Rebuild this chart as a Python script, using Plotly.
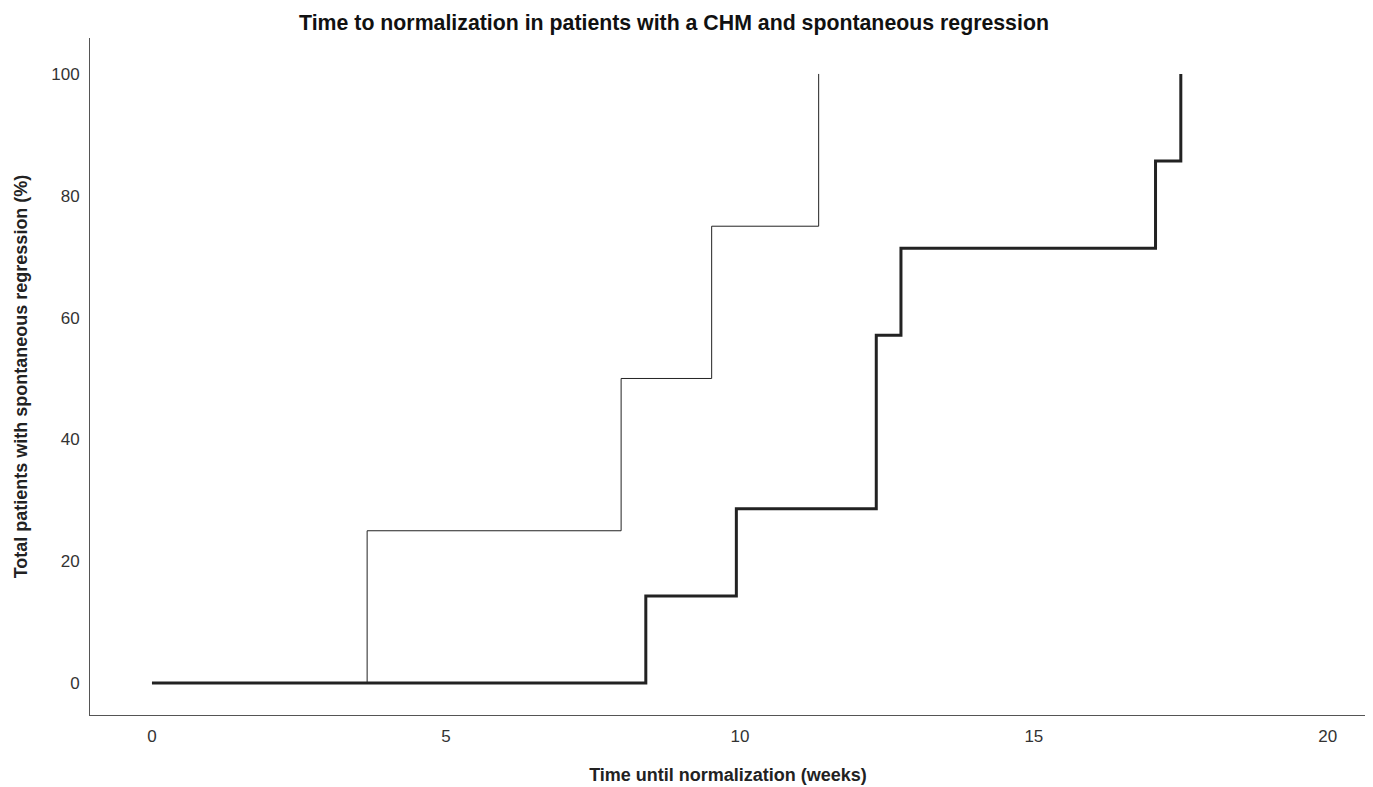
import plotly.graph_objects as go

# Data (weeks, cumulative %)
thin_weeks = [0, 3.66, 7.98, 9.52, 11.34]
thin_pct = [0, 25, 50, 75, 100]
thick_weeks = [0, 8.40, 9.94, 12.32, 12.74, 17.07, 17.50]
thick_pct = [0, 14.3, 28.6, 57.1, 71.4, 85.7, 100]

x_ticks = [0, 5, 10, 15, 20]
y_ticks = [0, 20, 40, 60, 80, 100]

fig = go.Figure()
fig.add_trace(go.Scatter(x=thin_weeks, y=thin_pct, mode="lines", line_shape="hv",
                         line=dict(color="#222222", width=1), showlegend=False))
fig.add_trace(go.Scatter(x=thick_weeks, y=thick_pct, mode="lines", line_shape="hv",
                         line=dict(color="#222222", width=3), showlegend=False))

W, H = 1365, 779
font_family = "Liberation Sans, Arial, sans-serif"
fig.update_layout(
    width=W, height=H,
    paper_bgcolor="white", plot_bgcolor="white",
    margin=dict(l=82, r=7, t=30, b=72),
    font=dict(family=font_family, color="#222222"),
    title=dict(text="<b>Time to normalization in patients with a CHM and spontaneous regression</b>",
               x=666 / W, xanchor="center", y=1 - 15 / H, yanchor="middle",
               font=dict(size=21.3, family=font_family, color="#111111")),
    xaxis=dict(range=[-1.054, 20.65], tickvals=x_ticks, showgrid=False, zeroline=False,
               showline=True, linecolor="#555555", linewidth=1, ticks="", automargin=False,
               ticklabelstandoff=6, tickfont=dict(size=17, color="#333333"),
               title=dict(text="<b>Time until normalization (weeks)</b>", font=dict(size=18), standoff=22)),
    yaxis=dict(range=[-5.25, 105.9], tickvals=y_ticks, showgrid=False, zeroline=False,
               showline=True, linecolor="#555555", linewidth=1, ticks="", automargin=False,
               ticklabelstandoff=6, tickfont=dict(size=17, color="#333333"),
               title=dict(text="<b>Total patients with spontaneous regression (%)</b>", font=dict(size=18), standoff=18)),
)

fig.write_html("out.html")
